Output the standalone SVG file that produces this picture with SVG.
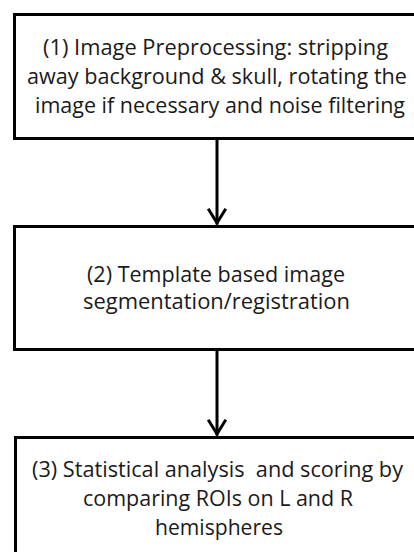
<svg xmlns="http://www.w3.org/2000/svg" width="414" height="552" viewBox="0 0 414 552">
<style>
.box{fill:#fff;stroke:#000;stroke-width:3}
.t{font-family:"Open Sans","Liberation Sans",sans-serif;font-size:21px;fill:#1a1a1a;white-space:pre}
.c{fill:none;stroke:#000;stroke-width:3;stroke-linecap:square}
</style>
<rect width="414" height="552" fill="#fff"/>
<g id="node1">
<rect class="box" x="14.5" y="14.5" width="405" height="124"/>
<text class="t" x="43" y="55" textLength="345" lengthAdjust="spacingAndGlyphs">(1) Image Preprocessing: stripping</text>
<text class="t" x="27" y="84" textLength="380" lengthAdjust="spacingAndGlyphs">away background &amp; skull, rotating the</text>
<text class="t" x="35" y="113" textLength="370" lengthAdjust="spacingAndGlyphs">image if necessary and noise filtering</text>
</g>
<g id="node2">
<rect class="box" x="14.5" y="226.5" width="405" height="123"/>
<text class="t" x="87" y="282" textLength="258" lengthAdjust="spacingAndGlyphs">(2) Template based image</text>
<text class="t" x="83" y="309" textLength="267" lengthAdjust="spacingAndGlyphs">segmentation/registration</text>
</g>
<g id="node3">
<rect class="box" x="15.5" y="437.5" width="405" height="130"/>
<text class="t" x="32" y="477" textLength="371" lengthAdjust="spacingAndGlyphs" xml:space="preserve">(3) Statistical analysis  and scoring by</text>
<text class="t" x="83" y="506" textLength="270" lengthAdjust="spacingAndGlyphs">comparing ROIs on L and R</text>
<text class="t" x="155" y="535" textLength="128" lengthAdjust="spacingAndGlyphs">hemispheres</text>
</g>
<g id="connectors">
<line class="c" x1="217" y1="140" x2="217" y2="223"/>
<polyline class="c" points="209,210 217,223 225,210"/>
<line class="c" x1="217" y1="351" x2="217" y2="434"/>
<polyline class="c" points="209,421 217,434 225,421"/>
</g>
</svg>
